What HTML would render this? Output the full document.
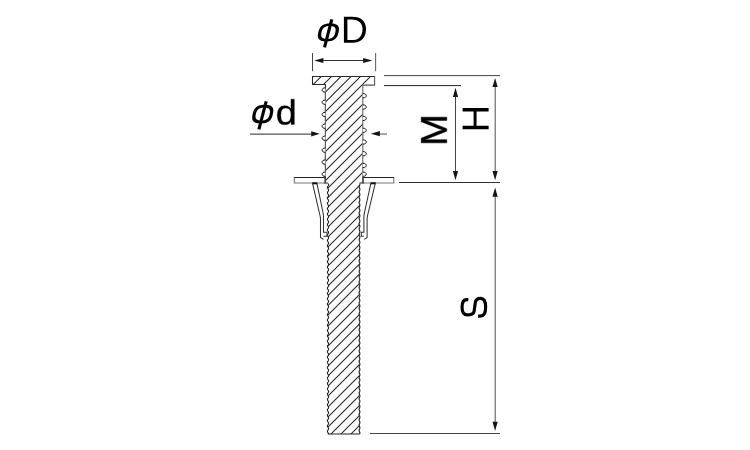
<!DOCTYPE html><html><head><meta charset="utf-8"><style>html,body{margin:0;padding:0;background:#fff;width:750px;height:450px;overflow:hidden}svg{display:block}</style></head><body>
<svg width="750" height="450" viewBox="0 0 750 450">
<rect width="750" height="450" fill="#fff"/>
<defs><clipPath id="hc"><path d="M312.3,76.3 H373.7 V80 L370,84.6 H362.8 V183.0 H325.4 V84.6 H312.3 Z"/><path d="M328.0,183.0 H359.5 V434.0 H328.0 Z"/></clipPath></defs>
<path clip-path="url(#hc)" d="M280,87.00L420,-53.00 M280,97.00L420,-43.00 M280,107.00L420,-33.00 M280,117.70L420,-22.30 M280,128.00L420,-12.00 M280,137.50L420,-2.50 M280,147.50L420,7.50 M280,157.00L420,17.00 M280,167.00L420,27.00 M280,177.00L420,37.00 M280,187.00L420,47.00 M280,197.00L420,57.00 M280,207.00L420,67.00 M280,216.00L420,76.00 M280,226.00L420,86.00 M280,236.00L420,96.00 M280,245.50L420,105.50 M280,255.00L420,115.00 M280,265.00L420,125.00 M280,275.00L420,135.00 M280,285.00L420,145.00 M280,295.00L420,155.00 M280,304.00L420,164.00 M280,314.00L420,174.00 M280,324.00L420,184.00 M280,334.00L420,194.00 M280,343.50L420,203.50 M280,353.50L420,213.50 M280,363.00L420,223.00 M280,374.00L420,234.00 M280,384.00L420,244.00 M280,394.00L420,254.00 M280,403.50L420,263.50 M280,414.00L420,274.00 M280,424.00L420,284.00 M280,434.00L420,294.00 M280,444.00L420,304.00 M280,455.00L420,315.00 M280,465.00L420,325.00 M280,475.00L420,335.00 M280,485.00L420,345.00 M280,495.00L420,355.00 M280,505.00L420,365.00 M280,515.00L420,375.00 M280,525.00L420,385.00" stroke="#000" stroke-opacity="0.85" stroke-width="1.05" fill="none"/>
<path d="M325.4,183.0 V84.5 H312.5 V76.5 H374.8" fill="none" stroke="#2a2a2a" stroke-width="1.05"/>
<path d="M374.6,76.5 V85.1 H362.8" fill="none" stroke="#555" stroke-width="1.05"/>
<path d="M362.8,84.8 V183.0" fill="none" stroke="#666" stroke-width="1.1"/>
<path d="M325.4,90 V183.0" fill="none" stroke="#666" stroke-width="1.0"/>
<path d="M328.00,183.50 L328.34,184.00 L328.56,184.50 L328.59,185.00 L328.42,185.50 L328.11,186.00 L327.76,186.50 L327.49,187.00 L327.40,187.50 L327.51,188.00 L327.79,188.50 L328.14,189.00 L328.44,189.50 L328.59,190.00 L328.54,190.50 L328.31,191.00 L327.96,191.50 L327.64,192.00 L327.43,192.50 L327.42,193.00 L327.61,193.50 L327.93,194.00 L328.27,194.50 L328.53,195.00 L328.60,195.50 L328.47,196.00 L328.18,196.50 L327.82,197.00 L327.53,197.50 L327.40,198.00 L327.47,198.50 L327.73,199.00 L328.07,199.50 L328.39,200.00 L328.58,200.50 L328.57,201.00 L328.36,201.50 L328.04,202.00 L327.69,202.50 L327.46,203.00 L327.41,203.50 L327.56,204.00 L327.86,204.50 L328.21,205.00 L328.49,205.50 L328.60,206.00 L328.51,206.50 L328.24,207.00 L327.89,207.50 L327.58,208.00 L327.41,208.50 L327.44,209.00 L327.66,209.50 L328.00,210.00 L328.34,210.50 L328.56,211.00 L328.59,211.50 L328.42,212.00 L328.11,212.50 L327.76,213.00 L327.49,213.50 L327.40,214.00 L327.51,214.50 L327.79,215.00 L328.14,215.50 L328.44,216.00 L328.59,216.50 L328.54,217.00 L328.31,217.50 L327.96,218.00 L327.64,218.50 L327.43,219.00 L327.42,219.50 L327.61,220.00 L327.93,220.50 L328.27,221.00 L328.53,221.50 L328.60,222.00 L328.47,222.50 L328.18,223.00 L327.82,223.50 L327.53,224.00 L327.40,224.50 L327.47,225.00 L327.73,225.50 L328.07,226.00 L328.39,226.50 L328.58,227.00 L328.57,227.50 L328.36,228.00 L328.04,228.50 L327.69,229.00 L327.46,229.50 L327.41,230.00 L327.56,230.50 L327.86,231.00 L328.21,231.50 L328.49,232.00 L328.60,232.50 L328.51,233.00 L328.24,233.50 L327.89,234.00 L327.58,234.50 L327.41,235.00 L327.44,235.50 L327.66,236.00 L328.00,236.50 L328.34,237.00 L328.56,237.50 L328.59,238.00 L328.42,238.50 L328.11,239.00 L327.76,239.50 L327.49,240.00 L327.40,240.50 L327.51,241.00 L327.79,241.50 L328.14,242.00 L328.44,242.50 L328.59,243.00 L328.54,243.50 L328.31,244.00 L327.96,244.50 L327.64,245.00 L327.43,245.50 L327.42,246.00 L327.61,246.50 L327.93,247.00 L328.27,247.50 L328.53,248.00 L328.60,248.50 L328.47,249.00 L328.18,249.50 L327.82,250.00 L327.53,250.50 L327.40,251.00 L327.47,251.50 L327.73,252.00 L328.07,252.50 L328.39,253.00 L328.58,253.50 L328.57,254.00 L328.36,254.50 L328.04,255.00 L327.69,255.50 L327.46,256.00 L327.41,256.50 L327.56,257.00 L327.86,257.50 L328.21,258.00 L328.49,258.50 L328.60,259.00 L328.51,259.50 L328.24,260.00 L327.89,260.50 L327.58,261.00 L327.41,261.50 L327.44,262.00 L327.66,262.50 L328.00,263.00 L328.34,263.50 L328.56,264.00 L328.59,264.50 L328.42,265.00 L328.11,265.50 L327.76,266.00 L327.49,266.50 L327.40,267.00 L327.51,267.50 L327.79,268.00 L328.14,268.50 L328.44,269.00 L328.59,269.50 L328.54,270.00 L328.31,270.50 L327.96,271.00 L327.64,271.50 L327.43,272.00 L327.42,272.50 L327.61,273.00 L327.93,273.50 L328.27,274.00 L328.53,274.50 L328.60,275.00 L328.47,275.50 L328.18,276.00 L327.82,276.50 L327.53,277.00 L327.40,277.50 L327.47,278.00 L327.73,278.50 L328.07,279.00 L328.39,279.50 L328.58,280.00 L328.57,280.50 L328.36,281.00 L328.04,281.50 L327.69,282.00 L327.46,282.50 L327.41,283.00 L327.56,283.50 L327.86,284.00 L328.21,284.50 L328.49,285.00 L328.60,285.50 L328.51,286.00 L328.24,286.50 L327.89,287.00 L327.58,287.50 L327.41,288.00 L327.44,288.50 L327.66,289.00 L328.00,289.50 L328.34,290.00 L328.56,290.50 L328.59,291.00 L328.42,291.50 L328.11,292.00 L327.76,292.50 L327.49,293.00 L327.40,293.50 L327.51,294.00 L327.79,294.50 L328.14,295.00 L328.44,295.50 L328.59,296.00 L328.54,296.50 L328.31,297.00 L327.96,297.50 L327.64,298.00 L327.43,298.50 L327.42,299.00 L327.61,299.50 L327.93,300.00 L328.27,300.50 L328.53,301.00 L328.60,301.50 L328.47,302.00 L328.18,302.50 L327.82,303.00 L327.53,303.50 L327.40,304.00 L327.47,304.50 L327.73,305.00 L328.07,305.50 L328.39,306.00 L328.58,306.50 L328.57,307.00 L328.36,307.50 L328.04,308.00 L327.69,308.50 L327.46,309.00 L327.41,309.50 L327.56,310.00 L327.86,310.50 L328.21,311.00 L328.49,311.50 L328.60,312.00 L328.51,312.50 L328.24,313.00 L327.89,313.50 L327.58,314.00 L327.41,314.50 L327.44,315.00 L327.66,315.50 L328.00,316.00 L328.34,316.50 L328.56,317.00 L328.59,317.50 L328.42,318.00 L328.11,318.50 L327.76,319.00 L327.49,319.50 L327.40,320.00 L327.51,320.50 L327.79,321.00 L328.14,321.50 L328.44,322.00 L328.59,322.50 L328.54,323.00 L328.31,323.50 L327.96,324.00 L327.64,324.50 L327.43,325.00 L327.42,325.50 L327.61,326.00 L327.93,326.50 L328.27,327.00 L328.53,327.50 L328.60,328.00 L328.47,328.50 L328.18,329.00 L327.82,329.50 L327.53,330.00 L327.40,330.50 L327.47,331.00 L327.73,331.50 L328.07,332.00 L328.39,332.50 L328.58,333.00 L328.57,333.50 L328.36,334.00 L328.04,334.50 L327.69,335.00 L327.46,335.50 L327.41,336.00 L327.56,336.50 L327.86,337.00 L328.21,337.50 L328.49,338.00 L328.60,338.50 L328.51,339.00 L328.24,339.50 L327.89,340.00 L327.58,340.50 L327.41,341.00 L327.44,341.50 L327.66,342.00 L328.00,342.50 L328.34,343.00 L328.56,343.50 L328.59,344.00 L328.42,344.50 L328.11,345.00 L327.76,345.50 L327.49,346.00 L327.40,346.50 L327.51,347.00 L327.79,347.50 L328.14,348.00 L328.44,348.50 L328.59,349.00 L328.54,349.50 L328.31,350.00 L327.96,350.50 L327.64,351.00 L327.43,351.50 L327.42,352.00 L327.61,352.50 L327.93,353.00 L328.27,353.50 L328.53,354.00 L328.60,354.50 L328.47,355.00 L328.18,355.50 L327.82,356.00 L327.53,356.50 L327.40,357.00 L327.47,357.50 L327.73,358.00 L328.07,358.50 L328.39,359.00 L328.58,359.50 L328.57,360.00 L328.36,360.50 L328.04,361.00 L327.69,361.50 L327.46,362.00 L327.41,362.50 L327.56,363.00 L327.86,363.50 L328.21,364.00 L328.49,364.50 L328.60,365.00 L328.51,365.50 L328.24,366.00 L327.89,366.50 L327.58,367.00 L327.41,367.50 L327.44,368.00 L327.66,368.50 L328.00,369.00 L328.34,369.50 L328.56,370.00 L328.59,370.50 L328.42,371.00 L328.11,371.50 L327.76,372.00 L327.49,372.50 L327.40,373.00 L327.51,373.50 L327.79,374.00 L328.14,374.50 L328.44,375.00 L328.59,375.50 L328.54,376.00 L328.31,376.50 L327.96,377.00 L327.64,377.50 L327.43,378.00 L327.42,378.50 L327.61,379.00 L327.93,379.50 L328.27,380.00 L328.53,380.50 L328.60,381.00 L328.47,381.50 L328.18,382.00 L327.82,382.50 L327.53,383.00 L327.40,383.50 L327.47,384.00 L327.73,384.50 L328.07,385.00 L328.39,385.50 L328.58,386.00 L328.57,386.50 L328.36,387.00 L328.04,387.50 L327.69,388.00 L327.46,388.50 L327.41,389.00 L327.56,389.50 L327.86,390.00 L328.21,390.50 L328.49,391.00 L328.60,391.50 L328.51,392.00 L328.24,392.50 L327.89,393.00 L327.58,393.50 L327.41,394.00 L327.44,394.50 L327.66,395.00 L328.00,395.50 L328.34,396.00 L328.56,396.50 L328.59,397.00 L328.42,397.50 L328.11,398.00 L327.76,398.50 L327.49,399.00 L327.40,399.50 L327.51,400.00 L327.79,400.50 L328.14,401.00 L328.44,401.50 L328.59,402.00 L328.54,402.50 L328.31,403.00 L327.96,403.50 L327.64,404.00 L327.43,404.50 L327.42,405.00 L327.61,405.50 L327.93,406.00 L328.27,406.50 L328.53,407.00 L328.60,407.50 L328.47,408.00 L328.18,408.50 L327.82,409.00 L327.53,409.50 L327.40,410.00 L327.47,410.50 L327.73,411.00 L328.07,411.50 L328.39,412.00 L328.58,412.50 L328.57,413.00 L328.36,413.50 L328.04,414.00 L327.69,414.50 L327.46,415.00 L327.41,415.50 L327.56,416.00 L327.86,416.50 L328.21,417.00 L328.49,417.50 L328.60,418.00 L328.51,418.50 L328.24,419.00 L327.89,419.50 L327.58,420.00 L327.41,420.50 L327.44,421.00 L327.66,421.50 L328.00,422.00 L328.34,422.50 L328.56,423.00 L328.59,423.50 L328.42,424.00 L328.11,424.50 L327.76,425.00 L327.49,425.50 L327.40,426.00 L327.51,426.50 L327.79,427.00 L328.14,427.50 L328.44,428.00 L328.59,428.50 L328.54,429.00 L328.31,429.50 L327.96,430.00 L327.64,430.50 L327.43,431.00 L327.42,431.50 L327.61,432.00 L327.93,432.50 L328.27,433.00 L328.53,433.50 L328.60,434.00" fill="none" stroke="#222" stroke-width="1.15"/>
<path d="M359.84,183.50 L359.90,184.00 L359.83,184.50 L359.64,185.00 L359.41,185.50 L359.21,186.00 L359.10,186.50 L359.14,187.00 L359.29,187.50 L359.52,188.00 L359.74,188.50 L359.88,189.00 L359.89,189.50 L359.76,190.00 L359.55,190.50 L359.32,191.00 L359.15,191.50 L359.10,192.00 L359.19,192.50 L359.38,193.00 L359.61,193.50 L359.81,194.00 L359.90,194.50 L359.85,195.00 L359.69,195.50 L359.46,196.00 L359.24,196.50 L359.11,197.00 L359.12,197.50 L359.25,198.00 L359.47,198.50 L359.70,199.00 L359.86,199.50 L359.90,200.00 L359.80,200.50 L359.60,201.00 L359.36,201.50 L359.18,202.00 L359.10,202.50 L359.16,203.00 L359.34,203.50 L359.57,204.00 L359.78,204.50 L359.89,205.00 L359.87,205.50 L359.73,206.00 L359.50,206.50 L359.28,207.00 L359.13,207.50 L359.11,208.00 L359.22,208.50 L359.43,209.00 L359.66,209.50 L359.84,210.00 L359.90,210.50 L359.83,211.00 L359.64,211.50 L359.41,212.00 L359.21,212.50 L359.10,213.00 L359.14,213.50 L359.29,214.00 L359.52,214.50 L359.74,215.00 L359.88,215.50 L359.89,216.00 L359.76,216.50 L359.55,217.00 L359.32,217.50 L359.15,218.00 L359.10,218.50 L359.19,219.00 L359.38,219.50 L359.61,220.00 L359.81,220.50 L359.90,221.00 L359.85,221.50 L359.69,222.00 L359.46,222.50 L359.24,223.00 L359.11,223.50 L359.12,224.00 L359.25,224.50 L359.47,225.00 L359.70,225.50 L359.86,226.00 L359.90,226.50 L359.80,227.00 L359.60,227.50 L359.36,228.00 L359.18,228.50 L359.10,229.00 L359.16,229.50 L359.34,230.00 L359.57,230.50 L359.78,231.00 L359.89,231.50 L359.87,232.00 L359.73,232.50 L359.50,233.00 L359.28,233.50 L359.13,234.00 L359.11,234.50 L359.22,235.00 L359.43,235.50 L359.66,236.00 L359.84,236.50 L359.90,237.00 L359.83,237.50 L359.64,238.00 L359.41,238.50 L359.21,239.00 L359.10,239.50 L359.14,240.00 L359.29,240.50 L359.52,241.00 L359.74,241.50 L359.88,242.00 L359.89,242.50 L359.76,243.00 L359.55,243.50 L359.32,244.00 L359.15,244.50 L359.10,245.00 L359.19,245.50 L359.38,246.00 L359.61,246.50 L359.81,247.00 L359.90,247.50 L359.85,248.00 L359.69,248.50 L359.46,249.00 L359.24,249.50 L359.11,250.00 L359.12,250.50 L359.25,251.00 L359.47,251.50 L359.70,252.00 L359.86,252.50 L359.90,253.00 L359.80,253.50 L359.60,254.00 L359.36,254.50 L359.18,255.00 L359.10,255.50 L359.16,256.00 L359.34,256.50 L359.57,257.00 L359.78,257.50 L359.89,258.00 L359.87,258.50 L359.73,259.00 L359.50,259.50 L359.28,260.00 L359.13,260.50 L359.11,261.00 L359.22,261.50 L359.43,262.00 L359.66,262.50 L359.84,263.00 L359.90,263.50 L359.83,264.00 L359.64,264.50 L359.41,265.00 L359.21,265.50 L359.10,266.00 L359.14,266.50 L359.29,267.00 L359.52,267.50 L359.74,268.00 L359.88,268.50 L359.89,269.00 L359.76,269.50 L359.55,270.00 L359.32,270.50 L359.15,271.00 L359.10,271.50 L359.19,272.00 L359.38,272.50 L359.61,273.00 L359.81,273.50 L359.90,274.00 L359.85,274.50 L359.69,275.00 L359.46,275.50 L359.24,276.00 L359.11,276.50 L359.12,277.00 L359.25,277.50 L359.47,278.00 L359.70,278.50 L359.86,279.00 L359.90,279.50 L359.80,280.00 L359.60,280.50 L359.36,281.00 L359.18,281.50 L359.10,282.00 L359.16,282.50 L359.34,283.00 L359.57,283.50 L359.78,284.00 L359.89,284.50 L359.87,285.00 L359.73,285.50 L359.50,286.00 L359.28,286.50 L359.13,287.00 L359.11,287.50 L359.22,288.00 L359.43,288.50 L359.66,289.00 L359.84,289.50 L359.90,290.00 L359.83,290.50 L359.64,291.00 L359.41,291.50 L359.21,292.00 L359.10,292.50 L359.14,293.00 L359.29,293.50 L359.52,294.00 L359.74,294.50 L359.88,295.00 L359.89,295.50 L359.76,296.00 L359.55,296.50 L359.32,297.00 L359.15,297.50 L359.10,298.00 L359.19,298.50 L359.38,299.00 L359.61,299.50 L359.81,300.00 L359.90,300.50 L359.85,301.00 L359.69,301.50 L359.46,302.00 L359.24,302.50 L359.11,303.00 L359.12,303.50 L359.25,304.00 L359.47,304.50 L359.70,305.00 L359.86,305.50 L359.90,306.00 L359.80,306.50 L359.60,307.00 L359.36,307.50 L359.18,308.00 L359.10,308.50 L359.16,309.00 L359.34,309.50 L359.57,310.00 L359.78,310.50 L359.89,311.00 L359.87,311.50 L359.73,312.00 L359.50,312.50 L359.28,313.00 L359.13,313.50 L359.11,314.00 L359.22,314.50 L359.43,315.00 L359.66,315.50 L359.84,316.00 L359.90,316.50 L359.83,317.00 L359.64,317.50 L359.41,318.00 L359.21,318.50 L359.10,319.00 L359.14,319.50 L359.29,320.00 L359.52,320.50 L359.74,321.00 L359.88,321.50 L359.89,322.00 L359.76,322.50 L359.55,323.00 L359.32,323.50 L359.15,324.00 L359.10,324.50 L359.19,325.00 L359.38,325.50 L359.61,326.00 L359.81,326.50 L359.90,327.00 L359.85,327.50 L359.69,328.00 L359.46,328.50 L359.24,329.00 L359.11,329.50 L359.12,330.00 L359.25,330.50 L359.47,331.00 L359.70,331.50 L359.86,332.00 L359.90,332.50 L359.80,333.00 L359.60,333.50 L359.36,334.00 L359.18,334.50 L359.10,335.00 L359.16,335.50 L359.34,336.00 L359.57,336.50 L359.78,337.00 L359.89,337.50 L359.87,338.00 L359.73,338.50 L359.50,339.00 L359.28,339.50 L359.13,340.00 L359.11,340.50 L359.22,341.00 L359.43,341.50 L359.66,342.00 L359.84,342.50 L359.90,343.00 L359.83,343.50 L359.64,344.00 L359.41,344.50 L359.21,345.00 L359.10,345.50 L359.14,346.00 L359.29,346.50 L359.52,347.00 L359.74,347.50 L359.88,348.00 L359.89,348.50 L359.76,349.00 L359.55,349.50 L359.32,350.00 L359.15,350.50 L359.10,351.00 L359.19,351.50 L359.38,352.00 L359.61,352.50 L359.81,353.00 L359.90,353.50 L359.85,354.00 L359.69,354.50 L359.46,355.00 L359.24,355.50 L359.11,356.00 L359.12,356.50 L359.25,357.00 L359.47,357.50 L359.70,358.00 L359.86,358.50 L359.90,359.00 L359.80,359.50 L359.60,360.00 L359.36,360.50 L359.18,361.00 L359.10,361.50 L359.16,362.00 L359.34,362.50 L359.57,363.00 L359.78,363.50 L359.89,364.00 L359.87,364.50 L359.73,365.00 L359.50,365.50 L359.28,366.00 L359.13,366.50 L359.11,367.00 L359.22,367.50 L359.43,368.00 L359.66,368.50 L359.84,369.00 L359.90,369.50 L359.83,370.00 L359.64,370.50 L359.41,371.00 L359.21,371.50 L359.10,372.00 L359.14,372.50 L359.29,373.00 L359.52,373.50 L359.74,374.00 L359.88,374.50 L359.89,375.00 L359.76,375.50 L359.55,376.00 L359.32,376.50 L359.15,377.00 L359.10,377.50 L359.19,378.00 L359.38,378.50 L359.61,379.00 L359.81,379.50 L359.90,380.00 L359.85,380.50 L359.69,381.00 L359.46,381.50 L359.24,382.00 L359.11,382.50 L359.12,383.00 L359.25,383.50 L359.47,384.00 L359.70,384.50 L359.86,385.00 L359.90,385.50 L359.80,386.00 L359.60,386.50 L359.36,387.00 L359.18,387.50 L359.10,388.00 L359.16,388.50 L359.34,389.00 L359.57,389.50 L359.78,390.00 L359.89,390.50 L359.87,391.00 L359.73,391.50 L359.50,392.00 L359.28,392.50 L359.13,393.00 L359.11,393.50 L359.22,394.00 L359.43,394.50 L359.66,395.00 L359.84,395.50 L359.90,396.00 L359.83,396.50 L359.64,397.00 L359.41,397.50 L359.21,398.00 L359.10,398.50 L359.14,399.00 L359.29,399.50 L359.52,400.00 L359.74,400.50 L359.88,401.00 L359.89,401.50 L359.76,402.00 L359.55,402.50 L359.32,403.00 L359.15,403.50 L359.10,404.00 L359.19,404.50 L359.38,405.00 L359.61,405.50 L359.81,406.00 L359.90,406.50 L359.85,407.00 L359.69,407.50 L359.46,408.00 L359.24,408.50 L359.11,409.00 L359.12,409.50 L359.25,410.00 L359.47,410.50 L359.70,411.00 L359.86,411.50 L359.90,412.00 L359.80,412.50 L359.60,413.00 L359.36,413.50 L359.18,414.00 L359.10,414.50 L359.16,415.00 L359.34,415.50 L359.57,416.00 L359.78,416.50 L359.89,417.00 L359.87,417.50 L359.73,418.00 L359.50,418.50 L359.28,419.00 L359.13,419.50 L359.11,420.00 L359.22,420.50 L359.43,421.00 L359.66,421.50 L359.84,422.00 L359.90,422.50 L359.83,423.00 L359.64,423.50 L359.41,424.00 L359.21,424.50 L359.10,425.00 L359.14,425.50 L359.29,426.00 L359.52,426.50 L359.74,427.00 L359.88,427.50 L359.89,428.00 L359.76,428.50 L359.55,429.00 L359.32,429.50 L359.15,430.00 L359.10,430.50 L359.19,431.00 L359.38,431.50 L359.61,432.00 L359.81,432.50 L359.90,433.00 L359.85,433.50 L359.69,434.00" fill="none" stroke="#222" stroke-width="1.15"/>
<path d="M327.7,434.0 H359.8" stroke="#222" stroke-width="1.2"/>
<path d="M323.9,183.0 H328.0M359.5,183.0H364.3" stroke="#2a2a2a" stroke-width="1.1"/>
<path d="M325.4,177.5 H294.3 V183.0 H325.4" fill="none" stroke="#777" stroke-width="1.1"/>
<path d="M325.4,177.5 H294.3" fill="none" stroke="#222" stroke-width="1.0"/>
<path d="M362.8,177.5 H393.8 V183.0 H362.8" fill="none" stroke="#777" stroke-width="1.1"/>
<path d="M362.8,177.5 H393.8" fill="none" stroke="#222" stroke-width="1.0"/>
<path d="M325.2,177.0 V183.3 M363.0,177.0 V183.3" stroke="#444" stroke-width="1.4"/>
<path d="M325.4,87.9 C321.0,87.5 321.0,92.5 325.4,92.1" fill="#fff" stroke="#151515" stroke-width="1"/>
<path d="M325.4,100.10000000000001 C321.0,99.7 321.0,104.7 325.4,104.3" fill="#fff" stroke="#151515" stroke-width="1"/>
<path d="M325.4,112.30000000000001 C321.0,111.9 321.0,116.9 325.4,116.5" fill="#fff" stroke="#151515" stroke-width="1"/>
<path d="M325.4,124.10000000000001 C321.0,123.7 321.0,128.7 325.4,128.3" fill="#fff" stroke="#151515" stroke-width="1"/>
<path d="M325.4,136.1 C321.0,135.7 321.0,140.7 325.4,140.29999999999998" fill="#fff" stroke="#151515" stroke-width="1"/>
<path d="M325.4,148.1 C321.0,147.7 321.0,152.7 325.4,152.29999999999998" fill="#fff" stroke="#151515" stroke-width="1"/>
<path d="M325.4,160.0 C321.0,159.6 321.0,164.6 325.4,164.2" fill="#fff" stroke="#151515" stroke-width="1"/>
<path d="M325.4,172.1 C321.0,171.7 321.0,176.7 325.4,176.29999999999998" fill="#fff" stroke="#151515" stroke-width="1"/>
<path d="M362.8,93.60000000000001 C367.40000000000003,93.2 367.40000000000003,98.2 362.8,97.8" fill="#fff" stroke="#151515" stroke-width="1"/>
<path d="M362.8,104.9 C367.40000000000003,104.5 367.40000000000003,109.5 362.8,109.1" fill="#fff" stroke="#151515" stroke-width="1"/>
<path d="M362.8,116.30000000000001 C367.40000000000003,115.9 367.40000000000003,120.9 362.8,120.5" fill="#fff" stroke="#151515" stroke-width="1"/>
<path d="M362.8,128.20000000000002 C367.40000000000003,127.80000000000001 367.40000000000003,132.8 362.8,132.4" fill="#fff" stroke="#151515" stroke-width="1"/>
<path d="M362.8,139.9 C367.40000000000003,139.5 367.40000000000003,144.5 362.8,144.1" fill="#fff" stroke="#151515" stroke-width="1"/>
<path d="M362.8,151.6 C367.40000000000003,151.2 367.40000000000003,156.2 362.8,155.79999999999998" fill="#fff" stroke="#151515" stroke-width="1"/>
<path d="M362.8,163.4 C367.40000000000003,163.0 367.40000000000003,168.0 362.8,167.6" fill="#fff" stroke="#151515" stroke-width="1"/>
<path d="M362.8,172.1 C367.40000000000003,171.7 367.40000000000003,176.7 362.8,176.29999999999998" fill="#fff" stroke="#151515" stroke-width="1"/>
<path d="M312.6,183.6 L320.0,215.5 Q320.5,217.5 320.5,219.5 V237.4 L323.5,239.4" fill="none" stroke="#333" stroke-width="1.05"/>
<path d="M317.0,183.6 L323.1,213.0 Q323.5,215 323.5,217 V232.3 H327 V236.2 H323.5" fill="none" stroke="#333" stroke-width="1.05"/>
<path d="M312.2,183.3 H317.3" stroke="#111" stroke-width="2"/>
<path d="M375.2,183.6 L367.6,215.5 Q367.1,217.5 367.1,219.5 V237.4 L364.3,239.4" fill="none" stroke="#333" stroke-width="1.05"/>
<path d="M370.8,183.6 L364.4,213.0 Q363.9,215 363.9,217 V232.3 H361.3 V236.2 H363.9" fill="none" stroke="#333" stroke-width="1.05"/>
<path d="M370.5,183.3 H375.7" stroke="#111" stroke-width="2"/>
<path d="M312.5,53 V71.2" stroke="#444" stroke-width="1.0" fill="none"/>
<path d="M375.6,53 V71.2" stroke="#666" stroke-width="1.1" fill="none"/>
<path d="M318,60.5 H368" stroke="#333" stroke-width="1.05" fill="none"/>
<path d="M314.20,60.50 L323.40,57.95 L323.40,63.05 Z" fill="#151515"/>
<path d="M372.40,60.50 L363.20,63.05 L363.20,57.95 Z" fill="#151515"/>
<path d="M250,134.1 H314" stroke="#555" stroke-width="1.05" fill="none"/>
<path d="M376,134 H387" stroke="#555" stroke-width="1.05" fill="none"/>
<path d="M319.80,133.80 L311.20,136.45 L311.20,131.15 Z" fill="#151515"/>
<path d="M370.80,133.70 L379.90,131.05 L379.90,136.35 Z" fill="#151515"/>
<path d="M384,75.6 H500" stroke="#444" stroke-width="1.0" fill="none"/>
<path d="M384,85.6 H461" stroke="#222" stroke-width="1.0" fill="none"/>
<path d="M399,182.5 H500" stroke="#333" stroke-width="1.0" fill="none"/>
<path d="M370,433.5 H500" stroke="#444" stroke-width="1.0" fill="none"/>
<path d="M455.5,92 V176" stroke="#444" stroke-width="1.0" fill="none"/>
<path d="M495.2,82 V176" stroke="#555" stroke-width="1.05" fill="none"/>
<path d="M495.2,191 V427" stroke="#555" stroke-width="1.05" fill="none"/>
<path d="M455.50,87.80 L458.10,97.00 L452.90,97.00 Z" fill="#151515"/>
<path d="M455.50,180.20 L452.90,171.00 L458.10,171.00 Z" fill="#151515"/>
<path d="M495.10,77.90 L497.70,87.10 L492.50,87.10 Z" fill="#151515"/>
<path d="M495.10,180.20 L492.50,171.00 L497.70,171.00 Z" fill="#151515"/>
<path d="M495.10,187.50 L497.70,196.70 L492.50,196.70 Z" fill="#151515"/>
<path d="M495.10,431.00 L492.50,421.80 L497.70,421.80 Z" fill="#151515"/>
<path fill="#000" transform="matrix(0.018219,0,0,-0.018382,340.8392,42.7000)" d="M1381 719Q1381 501 1296.0 337.5Q1211 174 1055.0 87.0Q899 0 695 0H168V1409H634Q992 1409 1186.5 1229.5Q1381 1050 1381 719ZM1189 719Q1189 981 1045.5 1118.5Q902 1256 630 1256H359V153H673Q828 153 945.5 221.0Q1063 289 1126.0 417.0Q1189 545 1189 719Z"/>
<path fill="#000" stroke="#000" stroke-width="0.35" vector-effect="non-scaling-stroke" stroke-linejoin="miter" transform="matrix(0.018621,0,0,-0.016988,275.6736,124.3852)" d="M821 174Q771 70 688.5 25.0Q606 -20 484 -20Q279 -20 182.5 118.0Q86 256 86 536Q86 1102 484 1102Q607 1102 689.0 1057.0Q771 1012 821 914H823L821 1035V1484H1001V223Q1001 54 1007 0H835Q832 16 828.5 74.0Q825 132 825 174ZM275 542Q275 315 335.0 217.0Q395 119 530 119Q683 119 752.0 225.0Q821 331 821 554Q821 769 752.0 869.0Q683 969 532 969Q396 969 335.5 868.5Q275 768 275 542Z"/>
<path fill="#000" stroke="#000" stroke-width="0.5" vector-effect="non-scaling-stroke" stroke-linejoin="miter" transform="matrix(0,-0.018759,-0.018098,0,446.7500,146.0015)" d="M1366 0V940Q1366 1096 1375 1240Q1326 1061 1287 960L923 0H789L420 960L364 1130L331 1240L334 1129L338 940V0H168V1409H419L794 432Q814 373 832.5 305.5Q851 238 857 208Q865 248 890.5 329.5Q916 411 925 432L1293 1409H1538V0Z"/>
<path fill="#000" transform="matrix(0,-0.018619,-0.018453,0,488.6000,132.4280)" d="M1121 0V653H359V0H168V1409H359V813H1121V1409H1312V0Z"/>
<path d="M468.3,299.65 L466.6,299.65 C463.4,299.65 462.05,302 462.05,307.3 C462.05,312.8 463.6,314.85 467,314.85 C471.6,314.85 473.7,314.2 474.1,311.2 L475.3,302.6 C475.7,299.4 477.4,298.35 480.6,298.35 C484.2,298.35 485.65,301.2 485.65,307.2 C485.65,313.4 483.6,316.05 480.2,316.05 L478.1,316.05" fill="none" stroke="#000" stroke-width="3.15"/>
<path fill="#000" fill-rule="evenodd" d="M338.50,32.40 L338.15,33.86 L337.85,34.83 L337.52,35.67 L337.16,36.42 L336.76,37.10 L336.31,37.73 L335.82,38.30 L335.28,38.82 L334.70,39.28 L334.07,39.71 L333.40,40.08 L332.68,40.40 L331.92,40.67 L331.09,40.90 L330.20,41.07 L329.23,41.20 L328.10,41.27 L326.44,41.30 L324.79,41.27 L323.70,41.20 L322.78,41.07 L321.97,40.90 L321.24,40.67 L320.60,40.40 L320.02,40.08 L319.51,39.71 L319.07,39.28 L318.70,38.82 L318.39,38.30 L318.15,37.73 L317.98,37.10 L317.87,36.42 L317.84,35.67 L317.88,34.83 L318.01,33.86 L318.30,32.40 L318.65,30.94 L318.95,29.97 L319.28,29.13 L319.64,28.38 L320.04,27.70 L320.49,27.07 L320.98,26.50 L321.52,25.98 L322.10,25.52 L322.73,25.09 L323.40,24.72 L324.12,24.40 L324.88,24.13 L325.71,23.90 L326.60,23.73 L327.57,23.60 L328.70,23.53 L330.36,23.50 L332.01,23.53 L333.10,23.60 L334.02,23.73 L334.83,23.90 L335.56,24.13 L336.20,24.40 L336.78,24.72 L337.29,25.09 L337.73,25.52 L338.10,25.98 L338.41,26.50 L338.65,27.07 L338.82,27.70 L338.93,28.38 L338.96,29.13 L338.92,29.97 L338.79,30.94Z M335.30,32.40 L335.05,33.45 L334.84,34.15 L334.61,34.75 L334.35,35.29 L334.07,35.78 L333.76,36.23 L333.42,36.64 L333.05,37.01 L332.65,37.35 L332.22,37.65 L331.76,37.92 L331.26,38.15 L330.74,38.35 L330.17,38.51 L329.56,38.64 L328.89,38.73 L328.13,38.78 L326.99,38.80 L325.86,38.78 L325.12,38.73 L324.49,38.64 L323.94,38.51 L323.45,38.35 L323.01,38.15 L322.61,37.92 L322.27,37.65 L321.97,37.35 L321.72,37.01 L321.52,36.64 L321.35,36.23 L321.24,35.78 L321.17,35.29 L321.16,34.75 L321.19,34.15 L321.29,33.45 L321.50,32.40 L321.75,31.35 L321.96,30.65 L322.19,30.05 L322.45,29.51 L322.73,29.02 L323.04,28.57 L323.38,28.16 L323.75,27.79 L324.15,27.45 L324.58,27.15 L325.04,26.88 L325.54,26.65 L326.06,26.45 L326.63,26.29 L327.24,26.16 L327.91,26.07 L328.67,26.02 L329.81,26.00 L330.94,26.02 L331.68,26.07 L332.31,26.16 L332.86,26.29 L333.35,26.45 L333.79,26.65 L334.19,26.88 L334.53,27.15 L334.83,27.45 L335.08,27.79 L335.28,28.16 L335.45,28.57 L335.56,29.02 L335.63,29.51 L335.64,30.05 L335.61,30.65 L335.51,31.35Z"/><path d="M331.8,19.3 L324.5,47.3" stroke="#000" stroke-width="3.1"/>
<path fill="#000" fill-rule="evenodd" d="M272.85,114.10 L272.49,115.63 L272.18,116.64 L271.84,117.52 L271.47,118.30 L271.06,119.01 L270.60,119.67 L270.11,120.26 L269.57,120.80 L268.98,121.29 L268.35,121.73 L267.68,122.12 L266.95,122.46 L266.18,122.75 L265.36,122.98 L264.47,123.16 L263.49,123.30 L262.37,123.37 L260.70,123.40 L259.05,123.37 L257.97,123.30 L257.04,123.16 L256.23,122.98 L255.51,122.75 L254.87,122.46 L254.29,122.12 L253.79,121.73 L253.35,121.29 L252.98,120.80 L252.68,120.26 L252.45,119.67 L252.28,119.01 L252.18,118.30 L252.15,117.52 L252.20,116.64 L252.34,115.63 L252.65,114.10 L253.01,112.57 L253.32,111.56 L253.66,110.68 L254.03,109.90 L254.44,109.19 L254.90,108.53 L255.39,107.94 L255.93,107.40 L256.52,106.91 L257.15,106.47 L257.82,106.08 L258.55,105.74 L259.32,105.45 L260.14,105.22 L261.03,105.04 L262.01,104.90 L263.13,104.83 L264.80,104.80 L266.45,104.83 L267.53,104.90 L268.46,105.04 L269.27,105.22 L269.99,105.45 L270.63,105.74 L271.21,106.08 L271.71,106.47 L272.15,106.91 L272.52,107.40 L272.82,107.94 L273.05,108.53 L273.22,109.19 L273.32,109.90 L273.35,110.68 L273.30,111.56 L273.16,112.57Z M269.65,114.10 L269.40,115.15 L269.19,115.85 L268.96,116.45 L268.70,116.99 L268.42,117.48 L268.11,117.93 L267.77,118.34 L267.40,118.71 L267.00,119.05 L266.57,119.35 L266.11,119.62 L265.61,119.85 L265.09,120.05 L264.52,120.21 L263.91,120.34 L263.24,120.43 L262.48,120.48 L261.34,120.50 L260.21,120.48 L259.47,120.43 L258.84,120.34 L258.29,120.21 L257.80,120.05 L257.36,119.85 L256.96,119.62 L256.62,119.35 L256.32,119.05 L256.07,118.71 L255.87,118.34 L255.70,117.93 L255.59,117.48 L255.52,116.99 L255.51,116.45 L255.54,115.85 L255.64,115.15 L255.85,114.10 L256.10,113.05 L256.31,112.35 L256.54,111.75 L256.80,111.21 L257.08,110.72 L257.39,110.27 L257.73,109.86 L258.10,109.49 L258.50,109.15 L258.93,108.85 L259.39,108.58 L259.89,108.35 L260.41,108.15 L260.98,107.99 L261.59,107.86 L262.26,107.77 L263.02,107.72 L264.16,107.70 L265.29,107.72 L266.03,107.77 L266.66,107.86 L267.21,107.99 L267.70,108.15 L268.14,108.35 L268.54,108.58 L268.88,108.85 L269.18,109.15 L269.43,109.49 L269.63,109.86 L269.80,110.27 L269.91,110.72 L269.98,111.21 L269.99,111.75 L269.96,112.35 L269.86,113.05Z"/><path d="M266.2,101.3 L258.9,129.3" stroke="#000" stroke-width="3.1"/>
</svg></body></html>
